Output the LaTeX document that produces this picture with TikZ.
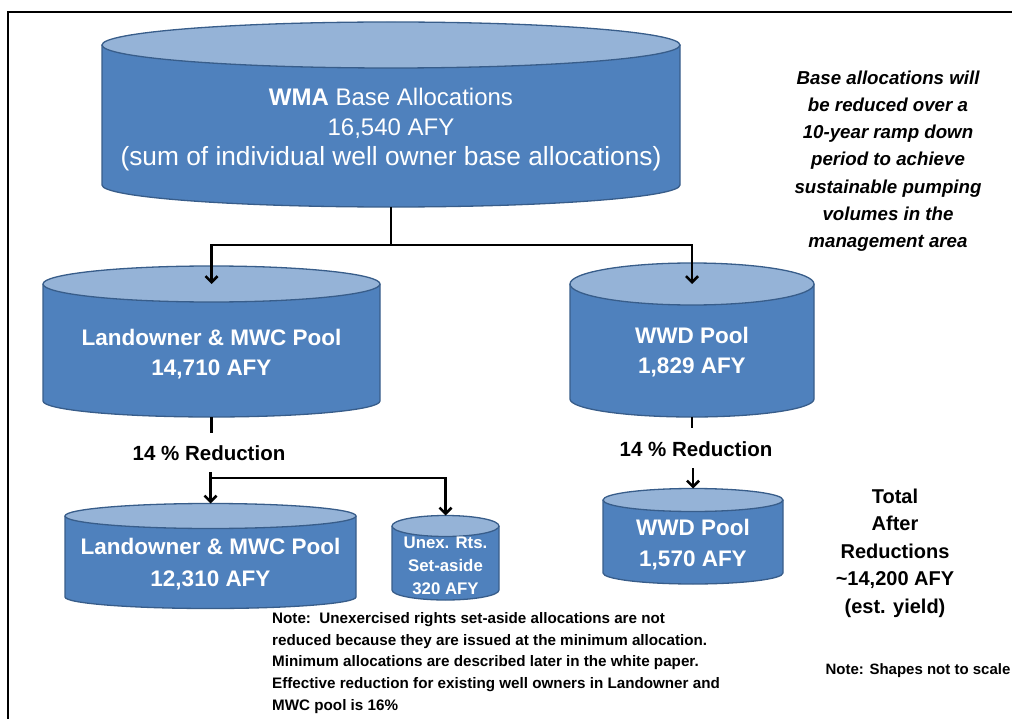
\documentclass[tikz,border=0pt]{standalone}
\usepackage{fontspec}
\setmainfont{Liberation Sans}
\usetikzlibrary{arrows.meta}
\definecolor{cylbody}{HTML}{4F81BD}
\definecolor{cyltop}{HTML}{95B3D7}
\definecolor{cylline}{HTML}{385D8A}
\tikzset{
  bodystyle/.style={fill=cylbody,draw=cylline,line width=1.3pt},
  topstyle/.style={fill=cyltop,draw=cylline,line width=1.3pt},
  conn/.style={line width=2.6pt,-{Straight Barb[length=6pt,width=12pt]}},
  plainconn/.style={line width=2.6pt},
  cyltext/.style={text=white,align=center,inner sep=0pt},
  blacktext/.style={text=black,align=center,inner sep=0pt}
}
% name, cx, rx, ty, ryt, by, ryb
\newcommand\drawcyl[7]{%
  \fill[cylbody] (#2-#3,#4) -- (#2-#3,#6) arc[start angle=180,end angle=360,x radius=#3pt,y radius=#7pt] -- (#2+#3,#4) -- cycle;
  \draw[cylline,line width=1.3pt] (#2-#3,#4) -- (#2-#3,#6) arc[start angle=180,end angle=360,x radius=#3pt,y radius=#7pt] -- (#2+#3,#4);
  \draw[topstyle] (#2,#4) ellipse[x radius=#3pt,y radius=#5pt];
  \coordinate (#1-tc) at (#2,#4);
  \coordinate (#1-top) at (#2,#4-#5);
  \coordinate (#1-bot) at (#2,#6+#7);
}
\begin{document}
\begin{tikzpicture}[x=1pt,y=-1pt]
\useasboundingbox (0,0) rectangle (1012,719);
% frame
\draw[line width=2pt] (1014,12) -- (8,12) -- (8,722);
% cylinders
\drawcyl{wma}{391}{289}{45}{23}{185}{22}
\drawcyl{lm}{211.5}{168.5}{284}{18}{401}{16}
\drawcyl{rm}{692}{122}{284}{21}{399}{18}
\drawcyl{bl}{210.5}{145.5}{516}{12.5}{597}{11.5}
\drawcyl{ux}{445.5}{53.5}{526}{10.5}{590}{10}
\drawcyl{br}{693}{90}{500}{11.5}{573}{11}
% cylinder texts
\node[cyltext,font=\fontsize{24}{30}\selectfont] (wmat) at (391,130)
  {\textbf{WMA} Base Allocations\\16,540 AFY\\{\fontsize{26.3}{30}\selectfont(sum of individual well owner base allocations)}};
\node[cyltext,font=\fontsize{22.5}{30}\selectfont\bfseries] (lmt) at (211.5,354)
  {Landowner \& MWC Pool\\14,710 AFY};
\node[cyltext,font=\fontsize{22.5}{30}\selectfont\bfseries] (rmt) at (692,352)
  {WWD Pool\\1,829 AFY};
\node[cyltext,font=\fontsize{22.5}{32}\selectfont\bfseries] (blt) at (210.5,564)
  {Landowner \& MWC Pool\\12,310 AFY};
\node[cyltext,font=\fontsize{16.8}{23}\selectfont\bfseries] (uxt) at (445.5,566)
  {Unex. Rts.\\Set-aside\\320 AFY};
\node[cyltext,font=\fontsize{22.5}{31}\selectfont\bfseries] (brt) at (693,545)
  {WWD Pool\\1,570 AFY};
% connectors
\coordinate (j1) at (391,245);
\draw[plainconn] (wma-bot) -- (j1);
\draw[conn] (j1) -| (lm-tc);
\draw[conn] (j1) -| (rm-tc);
\coordinate (a1) at (211.5,433);
\draw[plainconn] (lm-bot) -- (a1);
\node[blacktext,font=\fontsize{20.5}{24}\selectfont\bfseries] (red1) at (209,453) {14 \% Reduction};
\coordinate (j2) at (210.5,472);
\coordinate (j3) at (210.5,478);
\draw[conn] (j2) -- (bl-top);
\draw[conn] (j3) -| (ux-top);
\coordinate (a2) at (692,428);
\draw[plainconn] (rm-bot) -- (a2);
\node[blacktext,font=\fontsize{20.5}{24}\selectfont\bfseries] (red2) at (696,449) {14 \% Reduction};
\coordinate (j4) at (693,468);
\draw[conn] (j4) -- (br-top);
% side texts
\node[blacktext,font=\fontsize{18.7}{27.2}\selectfont\bfseries\itshape] (side) at (888,161)
  {Base allocations will\\be reduced over a\\10-year ramp down\\period to achieve\\sustainable pumping\\volumes in the\\management area};
\node[blacktext,font=\fontsize{20}{27.5}\selectfont\bfseries] (total) at (895,553)
  {Total\\After\\Reductions\\\textasciitilde14,200 AFY\\(est. yield)};
\node[blacktext,font=\fontsize{15}{17}\selectfont\bfseries] (scale) at (918,671)
  {Note: Shapes not to scale};
\node[text=black,align=left,inner sep=0pt,anchor=north west,font=\fontsize{15.2}{21.8}\selectfont\bfseries] (note) at (272,612)
  {Note:\ \ Unexercised rights set-aside allocations are not\\
   reduced because they are issued at the minimum allocation.\\
   Minimum allocations are described later in the white paper.\\
   Effective reduction for existing well owners in Landowner and\\
   MWC pool is 16\%};
\end{tikzpicture}
\end{document}
